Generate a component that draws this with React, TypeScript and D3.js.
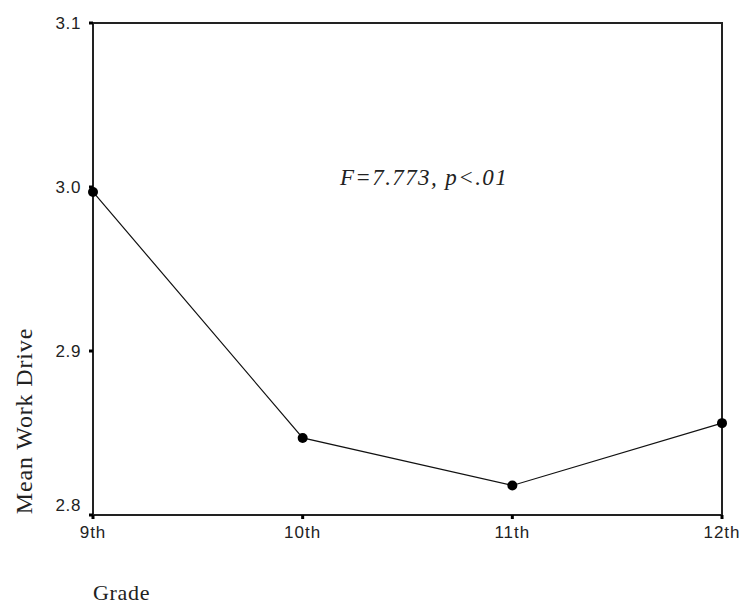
import React from "react";
import * as d3 from "d3";

const grades = ["9th", "10th", "11th", "12th"];
const meanWorkDrive = [2.997, 2.847, 2.818, 2.856];
const yTicks = [2.8, 2.9, 3.0, 3.1];
const annotation = "F=7.773, p<.01";

export default function App() {
  const W = 744, H = 606;
  const left = 93, right = 722, top = 23, bottom = 515;
  const x = d3.scalePoint<string>().domain(grades).range([left, right]);
  const y = d3.scaleLinear().domain([2.8, 3.1]).range([bottom, top]);
  const line = d3.line<number>().x((_, i) => x(grades[i])!).y((d) => y(d));
  const sans = "'Liberation Sans', Arial, sans-serif";
  const serif = "'Liberation Serif', 'Times New Roman', serif";
  return (
    <svg width={W} height={H} style={{ position: "absolute", left: 0, top: 0, background: "#fff" }}>
      <rect x={0} y={0} width={W} height={H} fill="#fff" />
      <rect x={left} y={top} width={right - left} height={bottom - top} fill="none" stroke="#222" strokeWidth={2} />
      {yTicks.map((t, i) => (
        <g key={t}>
          <line x1={left - 4} x2={left} y1={y(t)} y2={y(t)} stroke="#000" strokeWidth={3} />
          <text x={81} y={y(t) + (i === 0 ? -10 : 0)} dy="0.36em" textAnchor="end" fontFamily={sans} fontSize={17} letterSpacing={0.6} fill="#222">
            {t.toFixed(1)}
          </text>
        </g>
      ))}
      {grades.map((g) => (
        <g key={g}>
          <line x1={x(g)!} x2={x(g)!} y1={bottom} y2={bottom + 4} stroke="#000" strokeWidth={3} />
          <text x={x(g)!} y={538} textAnchor="middle" fontFamily={sans} fontSize={17} letterSpacing={1} fill="#222">
            {g}
          </text>
        </g>
      ))}
      <path d={line(meanWorkDrive)!} fill="none" stroke="#111" strokeWidth={1.2} />
      {meanWorkDrive.map((v, i) => (
        <circle key={i} cx={x(grades[i])!} cy={y(v)} r={5} fill="#000" />
      ))}
      <text x={424} y={185} textAnchor="middle" fontFamily={serif} fontStyle="italic" fontSize={23} letterSpacing={1.4} fill="#222">
        {annotation}
      </text>
      <text transform="translate(32,421) rotate(-90)" textAnchor="middle" fontFamily={serif} fontSize={24} letterSpacing={0.85} fill="#222">
        Mean Work Drive
      </text>
      <text x={93} y={600} fontFamily={serif} fontSize={22} letterSpacing={0.7} fill="#222">
        Grade
      </text>
    </svg>
  );
}
